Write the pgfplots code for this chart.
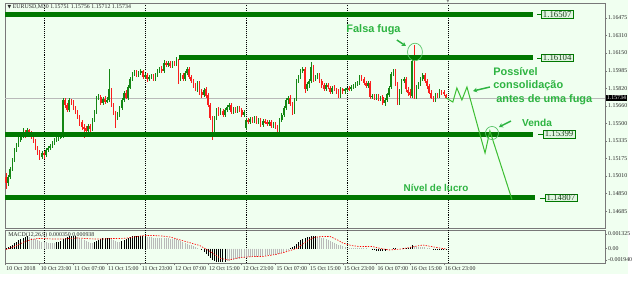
\documentclass[border=0pt]{standalone}
\usepackage{pgfplots}
\pgfplotsset{compat=1.18}
\usepackage{pgfplotstable}
\usepackage{fontspec}
\setmainfont{Liberation Serif}
\newfontfamily\annfont{Liberation Sans}
\newfontfamily\symfont{DejaVu Sans}
\usetikzlibrary{arrows.meta}
\definecolor{bgc}{RGB}{240,255,240}
\definecolor{bull}{RGB}{20,135,20}
\definecolor{bear}{RGB}{250,30,30}
\definecolor{lvl}{RGB}{0,120,0}
\definecolor{ann}{RGB}{45,180,65}
\definecolor{proj}{RGB}{60,190,50}
\definecolor{boxfill}{RGB}{225,245,225}
\definecolor{boxtext}{RGB}{30,70,30}
\definecolor{frame}{RGB}{120,120,120}
\newcommand\axfont{\fontsize{4.4}{5}\selectfont}

\pgfplotstableread{
b o h l c
-18 1.15004 1.15042 1.14891 1.14948
-17 1.14948 1.15023 1.14920 1.15004
-16 1.15004 1.15098 1.14985 1.15079
-15 1.15079 1.15173 1.15061 1.15155
-14 1.15155 1.15267 1.15136 1.15249
-13 1.15249 1.15314 1.15230 1.15296
-12 1.15296 1.15371 1.15277 1.15343
-11 1.15343 1.15408 1.15324 1.15380
-10 1.15380 1.15455 1.15361 1.15418
-9 1.15418 1.15437 1.15361 1.15390
-8 1.15390 1.15455 1.15371 1.15437
-7 1.15437 1.15446 1.15380 1.15408
-6 1.15408 1.15427 1.15352 1.15371
-5 1.15371 1.15390 1.15314 1.15343
-4 1.15343 1.15352 1.15249 1.15267
-3 1.15267 1.15286 1.15202 1.15230
-2 1.15230 1.15249 1.15155 1.15183
-1 1.15183 1.15239 1.15164 1.15220
0 1.15220 1.15239 1.15173 1.15202
1 1.15202 1.15267 1.15183 1.15249
2 1.15249 1.15286 1.15230 1.15267
3 1.15267 1.15305 1.15249 1.15286
4 1.15286 1.15333 1.15267 1.15314
5 1.15314 1.15361 1.15296 1.15343
6 1.15343 1.15371 1.15324 1.15352
7 1.15352 1.15399 1.15333 1.15371
8 1.15371 1.15408 1.15352 1.15380
9 1.15380 1.15737 1.15361 1.15719
10 1.15719 1.15737 1.15643 1.15672
11 1.15672 1.15690 1.15606 1.15625
12 1.15625 1.15737 1.15606 1.15719
13 1.15719 1.15728 1.15672 1.15700
14 1.15700 1.15719 1.15625 1.15643
15 1.15643 1.15662 1.15587 1.15606
16 1.15606 1.15625 1.15540 1.15568
17 1.15568 1.15578 1.15474 1.15512
18 1.15512 1.15531 1.15437 1.15465
19 1.15465 1.15493 1.15361 1.15455
20 1.15455 1.15474 1.15399 1.15427
21 1.15427 1.15493 1.15408 1.15474
22 1.15474 1.15493 1.15418 1.15446
23 1.15446 1.15549 1.15427 1.15531
24 1.15531 1.15625 1.15512 1.15606
25 1.15606 1.15756 1.15587 1.15737
26 1.15737 1.15766 1.15719 1.15747
27 1.15747 1.15756 1.15672 1.15690
28 1.15690 1.15747 1.15672 1.15728
29 1.15728 1.15747 1.15681 1.15700
30 1.15700 1.15747 1.15690 1.15719
31 1.15719 1.16001 1.15700 1.15813
32 1.15813 1.15831 1.15653 1.15672
33 1.15672 1.15690 1.15578 1.15596
34 1.15596 1.15615 1.15455 1.15559
35 1.15559 1.15606 1.15531 1.15578
36 1.15578 1.15662 1.15559 1.15643
37 1.15643 1.15737 1.15625 1.15719
38 1.15719 1.15803 1.15700 1.15784
39 1.15784 1.15803 1.15719 1.15737
40 1.15737 1.15850 1.15719 1.15831
41 1.15831 1.15925 1.15813 1.15907
42 1.15907 1.15972 1.15888 1.15954
43 1.15954 1.15991 1.15935 1.15972
44 1.15972 1.15991 1.15925 1.15944
45 1.15944 1.15982 1.15925 1.15963
46 1.15963 1.16001 1.15944 1.15982
47 1.15982 1.15991 1.15907 1.15925
48 1.15925 1.15963 1.15907 1.15944
49 1.15944 1.15963 1.15878 1.15907
50 1.15907 1.15944 1.15888 1.15925
51 1.15925 1.15954 1.15907 1.15935
52 1.15935 1.15954 1.15888 1.15907
53 1.15907 1.15963 1.15888 1.15944
54 1.15944 1.16001 1.15925 1.15982
55 1.15982 1.16019 1.15963 1.16001
56 1.16001 1.16029 1.15963 1.15982
57 1.15982 1.16085 1.15963 1.16057
58 1.16057 1.16076 1.16019 1.16038
59 1.16038 1.16076 1.16019 1.16057
60 1.16057 1.16076 1.16010 1.16029
61 1.16029 1.16076 1.16010 1.16057
62 1.16057 1.16076 1.16029 1.16048
63 1.16048 1.16113 1.16029 1.16076
64 1.16076 1.16094 1.15860 1.15907
65 1.15907 1.15963 1.15888 1.15944
66 1.15944 1.15963 1.15888 1.15907
67 1.15907 1.15982 1.15888 1.15963
68 1.15963 1.16019 1.15944 1.16001
69 1.16001 1.16019 1.15907 1.15925
70 1.15925 1.15944 1.15869 1.15888
71 1.15888 1.15907 1.15831 1.15850
72 1.15850 1.15869 1.15794 1.15813
73 1.15813 1.15888 1.15794 1.15869
74 1.15869 1.15888 1.15766 1.15794
75 1.15794 1.15813 1.15737 1.15766
76 1.15766 1.15831 1.15747 1.15813
77 1.15813 1.15831 1.15737 1.15756
78 1.15756 1.15775 1.15653 1.15672
79 1.15672 1.15690 1.15531 1.15549
80 1.15549 1.15568 1.15343 1.15437
81 1.15437 1.15568 1.15418 1.15549
82 1.15549 1.15643 1.15531 1.15625
83 1.15625 1.15653 1.15568 1.15596
84 1.15596 1.15643 1.15578 1.15615
85 1.15615 1.15634 1.15559 1.15578
86 1.15578 1.15643 1.15559 1.15625
87 1.15625 1.15672 1.15606 1.15653
88 1.15653 1.15690 1.15625 1.15672
89 1.15672 1.15690 1.15587 1.15606
90 1.15606 1.15653 1.15587 1.15634
91 1.15634 1.15653 1.15596 1.15615
92 1.15615 1.15662 1.15596 1.15643
93 1.15643 1.15662 1.15606 1.15625
94 1.15625 1.15643 1.15559 1.15578
95 1.15578 1.15625 1.15559 1.15606
96 1.15455 1.15549 1.15437 1.15531
97 1.15531 1.15549 1.15493 1.15512
98 1.15512 1.15559 1.15493 1.15540
99 1.15540 1.15559 1.15502 1.15521
100 1.15521 1.15568 1.15502 1.15549
101 1.15549 1.15568 1.15493 1.15512
102 1.15512 1.15549 1.15493 1.15531
103 1.15531 1.15549 1.15465 1.15484
104 1.15484 1.15540 1.15465 1.15521
105 1.15521 1.15540 1.15493 1.15512
106 1.15512 1.15531 1.15474 1.15493
107 1.15493 1.15531 1.15474 1.15512
108 1.15512 1.15531 1.15455 1.15474
109 1.15474 1.15512 1.15455 1.15493
110 1.15493 1.15512 1.15446 1.15465
111 1.15465 1.15484 1.15418 1.15437
112 1.15437 1.15549 1.15418 1.15531
113 1.15531 1.15596 1.15512 1.15578
114 1.15578 1.15662 1.15559 1.15643
115 1.15643 1.15737 1.15625 1.15719
116 1.15719 1.15756 1.15681 1.15737
117 1.15737 1.15756 1.15662 1.15681
118 1.15681 1.15700 1.15578 1.15606
119 1.15606 1.15737 1.15587 1.15719
120 1.15719 1.15907 1.15700 1.15888
121 1.15888 1.15944 1.15869 1.15925
122 1.15925 1.16001 1.15907 1.15982
123 1.15982 1.16019 1.15963 1.16001
124 1.16001 1.16019 1.15784 1.15813
125 1.15813 1.15878 1.15794 1.15860
126 1.15860 1.15907 1.15831 1.15888
127 1.15888 1.16066 1.15869 1.16019
128 1.16019 1.16038 1.15878 1.15907
129 1.15907 1.15944 1.15888 1.15925
130 1.15925 1.15963 1.15907 1.15944
131 1.15944 1.15963 1.15869 1.15888
132 1.15888 1.15907 1.15831 1.15850
133 1.15850 1.15869 1.15794 1.15813
134 1.15813 1.15869 1.15794 1.15850
135 1.15850 1.15869 1.15813 1.15831
136 1.15831 1.15850 1.15775 1.15794
137 1.15794 1.15850 1.15775 1.15831
138 1.15831 1.15850 1.15794 1.15813
139 1.15813 1.15831 1.15775 1.15794
140 1.15794 1.15813 1.15737 1.15756
141 1.15756 1.15831 1.15737 1.15813
142 1.15813 1.15831 1.15775 1.15794
143 1.15794 1.15831 1.15775 1.15813
144 1.15813 1.15831 1.15794 1.15822
145 1.15822 1.15841 1.15794 1.15813
146 1.15813 1.15850 1.15794 1.15831
147 1.15831 1.15860 1.15813 1.15841
148 1.15841 1.15878 1.15822 1.15860
149 1.15860 1.15888 1.15841 1.15869
150 1.15869 1.15944 1.15850 1.15925
151 1.15925 1.15944 1.15888 1.15907
152 1.15907 1.15925 1.15850 1.15869
153 1.15869 1.15888 1.15831 1.15850
154 1.15850 1.15888 1.15831 1.15869
155 1.15869 1.15888 1.15728 1.15747
156 1.15747 1.15775 1.15728 1.15756
157 1.15756 1.15775 1.15719 1.15737
158 1.15737 1.15775 1.15719 1.15756
159 1.15756 1.15775 1.15709 1.15728
160 1.15728 1.15756 1.15709 1.15737
161 1.15737 1.15756 1.15672 1.15690
162 1.15690 1.15737 1.15662 1.15719
163 1.15719 1.15784 1.15700 1.15766
164 1.15766 1.15850 1.15747 1.15831
165 1.15831 1.15972 1.15813 1.15954
166 1.15954 1.16001 1.15935 1.15982
167 1.15982 1.16001 1.15841 1.15860
168 1.15860 1.15878 1.15672 1.15690
169 1.15690 1.15813 1.15672 1.15794
170 1.15794 1.15907 1.15775 1.15888
171 1.15888 1.15925 1.15869 1.15907
172 1.15907 1.15925 1.15794 1.15813
173 1.15813 1.15831 1.15756 1.15784
174 1.15784 1.15813 1.15737 1.15756
175 1.15756 1.16094 1.15737 1.16076
176 1.16076 1.16226 1.15728 1.15747
177 1.15747 1.15850 1.15728 1.15831
178 1.15831 1.15878 1.15813 1.15860
179 1.15860 1.15925 1.15841 1.15907
180 1.15907 1.15963 1.15888 1.15944
181 1.15944 1.15963 1.15869 1.15888
182 1.15888 1.15907 1.15822 1.15841
183 1.15841 1.15860 1.15766 1.15784
184 1.15784 1.15803 1.15719 1.15737
185 1.15737 1.15756 1.15700 1.15719
186 1.15719 1.15784 1.15700 1.15766
187 1.15766 1.15784 1.15737 1.15756
188 1.15756 1.15813 1.15737 1.15794
189 1.15794 1.15813 1.15766 1.15784
190 1.15784 1.15803 1.15747 1.15766
191 1.15766 1.15775 1.15728 1.15734
}\candles

\pgfplotstableread{
b v k
-18 0.00009 1
-17 0.00018 1
-16 0.00027 1
-15 0.00036 1
-14 0.00054 1
-13 0.00063 1
-12 0.00081 1
-11 0.00090 1
-10 0.00099 1
-9 0.00108 1
-8 0.00117 1
-7 0.00108 0
-6 0.00099 0
-5 0.00090 0
-4 0.00090 0
-3 0.00081 0
-2 0.00072 0
-1 0.00063 0
0 0.00063 0
1 0.00063 0
2 0.00054 0
3 0.00054 0
4 0.00054 0
5 0.00054 0
6 0.00063 1
7 0.00063 1
8 0.00072 1
9 0.00090 1
10 0.00099 1
11 0.00108 1
12 0.00117 1
13 0.00117 1
14 0.00117 1
15 0.00117 1
16 0.00108 0
17 0.00099 0
18 0.00090 0
19 0.00081 0
20 0.00072 0
21 0.00063 0
22 0.00054 0
23 0.00054 0
24 0.00063 1
25 0.00072 1
26 0.00081 1
27 0.00090 1
28 0.00099 1
29 0.00099 1
30 0.00099 1
31 0.00099 1
32 0.00090 0
33 0.00081 0
34 0.00072 0
35 0.00063 0
36 0.00063 0
37 0.00072 1
38 0.00081 1
39 0.00090 1
40 0.00099 1
41 0.00108 1
42 0.00117 1
43 0.00117 1
44 0.00117 1
45 0.00117 1
46 0.00117 1
47 0.00117 1
48 0.00117 1
49 0.00108 0
50 0.00108 0
51 0.00108 0
52 0.00099 0
53 0.00099 0
54 0.00099 0
55 0.00099 0
56 0.00099 0
57 0.00099 0
58 0.00099 0
59 0.00099 0
60 0.00090 0
61 0.00090 0
62 0.00090 0
63 0.00090 0
64 0.00081 0
65 0.00072 0
66 0.00063 0
67 0.00054 0
68 0.00045 0
69 0.00036 0
70 0.00036 0
71 0.00027 0
72 0.00018 0
73 0.00009 0
74 0 0
75 -0.00009 1
76 -0.00027 1
77 -0.00045 1
78 -0.00063 1
79 -0.00081 1
80 -0.00099 1
81 -0.00108 1
82 -0.00117 1
83 -0.00117 1
84 -0.00117 1
85 -0.00117 1
86 -0.00117 1
87 -0.00108 0
88 -0.00108 0
89 -0.00099 0
90 -0.00099 0
91 -0.00090 0
92 -0.00090 0
93 -0.00090 0
94 -0.00081 0
95 -0.00081 0
96 -0.00081 0
97 -0.00072 0
98 -0.00072 0
99 -0.00072 0
100 -0.00072 0
101 -0.00072 0
102 -0.00063 0
103 -0.00063 0
104 -0.00063 0
105 -0.00063 0
106 -0.00054 0
107 -0.00054 0
108 -0.00054 0
109 -0.00054 0
110 -0.00054 0
111 -0.00045 0
112 -0.00045 0
113 -0.00036 0
114 -0.00027 0
115 -0.00018 0
116 -0.00009 0
117 0.00009 1
118 0.00018 1
119 0.00027 1
120 0.00045 1
121 0.00063 1
122 0.00081 1
123 0.00090 1
124 0.00099 1
125 0.00108 1
126 0.00108 1
127 0.00117 1
128 0.00117 1
129 0.00117 1
130 0.00108 0
131 0.00108 0
132 0.00099 0
133 0.00099 0
134 0.00090 0
135 0.00081 0
136 0.00072 0
137 0.00063 0
138 0.00054 0
139 0.00045 0
140 0.00036 0
141 0.00036 0
142 0.00027 0
143 0.00018 0
144 0.00009 0
145 0.00009 0
146 0.00009 0
147 0.00009 0
148 0.00009 0
149 0.00009 0
150 0.00009 0
151 0.00009 0
152 0.00009 0
153 0.00009 0
154 0 0
155 0 0
156 -0.00009 1
157 -0.00009 1
158 -0.00018 1
159 -0.00018 1
160 -0.00018 1
161 -0.00018 1
162 -0.00018 1
163 -0.00009 0
164 -0.00009 0
165 0 0
166 0.00009 1
167 0.00009 1
168 0 0
169 0 0
170 0 0
171 0.00009 1
172 0.00009 1
173 0.00009 1
174 0.00018 1
175 0.00036 1
176 0.00027 0
177 0.00018 0
178 0.00018 0
179 0.00018 0
180 0.00018 0
181 0.00018 0
182 0.00009 0
183 0.00009 0
184 0 0
185 -0.00009 1
186 -0.00009 1
187 -0.00009 1
188 -0.00009 1
189 -0.00009 1
190 -0.00009 1
191 -0.00009 1
}\macd

\pgfplotstableread{
b s
-18 -0.00009
-15 0.00009
-12 0.00036
-9 0.00063
-6 0.00081
-3 0.00090
0 0.00090
4 0.000855
8 0.000855
12 0.00090
16 0.000945
20 0.00090
24 0.000855
28 0.000855
32 0.00090
36 0.00090
40 0.000945
44 0.00108
48 0.00117
52 0.00117
56 0.001125
60 0.001035
64 0.00081
69 0.00054
74 0.00027
79 -0.00027
84 -0.00090
88 -0.001035
93 -0.00081
100 -0.00072
104 -0.00072
110 -0.00054
114 -0.00036
120 0
124 0.00054
128 0.00099
132 0.00108
136 0.00108
140 0.00072
142 0.000495
146 0.00027
150 0.00018
156 0.00018
160 0
164 -0.000135
170 -0.000045
176 0.00018
180 0.000315
184 0.00018
188 0.000045
191 -0.000045
}\signal

\tikzset{
  ann/.style={font=\annfont\bfseries\fontsize{8.2}{9.5}\selectfont, text=ann, inner sep=0pt},
  lvlbox/.style={draw=lvl, line width=0.4pt, fill=boxfill, text=boxtext, font=\fontsize{6.6}{7}\selectfont, inner xsep=1.2pt, inner ysep=0.4pt, minimum height=5.6pt, anchor=west},
  arr/.style={draw=ann, line width=1.1pt, -{Stealth[length=3pt,width=3.5pt]}},
}

\begin{document}
\begin{tikzpicture}
\path[use as bounding box] (0,0) rectangle (480.75pt,-213.75pt);
\fill[white] (0,0) rectangle (480.75pt,-213.75pt);
\fill[bgc] (0,0) rectangle (471pt,-205.5pt);

\begin{axis}[
  at={(3.75pt,-2.475pt)}, anchor=north west, scale only axis,
  width=450pt, height=168.75pt,
  xmin=-18.5, xmax=266.6, ymin=1.145257, ymax=1.166101,
  clip=false,
  axis line style={frame, line width=0.6pt},
  xtick={0,48,96,144,192}, xticklabels={}, xmajorgrids,
  major x grid style={black, line width=0.45pt, dash pattern=on 0.8pt off 0.8pt},
  xtick style={draw=none},
  scaled y ticks=false,
  ytick={1.16475,1.16310,1.16150,1.15985,1.15820,1.15660,1.15500,1.15335,1.15175,1.15010,1.14850,1.14685,1.14520},
  yticklabels={1.16475,1.16310,1.16150,1.15985,1.15820,1.15660,1.15500,1.15335,1.15175,1.15010,1.14850,1.14685,1.14520},
  ytick pos=right, yticklabel pos=right,
  tick align=outside, major tick length=1.6pt,
  ytick style={frame, line width=0.4pt},
  yticklabel style={font=\axfont, inner sep=0.6pt, text=black!85},
]
% current price line
\addplot[gray!55, line width=0.5pt, forget plot] coordinates {(-18.5,1.15734) (266.6,1.15734)};
% wicks
\addplot[draw=none, mark=none, forget plot, restrict expr to domain={\thisrow{c}-\thisrow{o}}{0:1},
  error bars/.cd, y dir=both, y explicit, error mark=none, error bar style={draw=bull, solid, line width=0.45pt}]
  table[x=b, y expr={(\thisrow{h}+\thisrow{l})/2}, y error expr={(\thisrow{h}-\thisrow{l})/2}] {\candles};
\addplot[draw=none, mark=none, forget plot, restrict expr to domain={\thisrow{o}-\thisrow{c}}{0.000001:1},
  error bars/.cd, y dir=both, y explicit, error mark=none, error bar style={draw=bear, solid, line width=0.45pt}]
  table[x=b, y expr={(\thisrow{h}+\thisrow{l})/2}, y error expr={(\thisrow{h}-\thisrow{l})/2}] {\candles};
% bodies
\addplot[draw=none, mark=none, forget plot, restrict expr to domain={\thisrow{c}-\thisrow{o}}{0:1},
  error bars/.cd, y dir=both, y explicit, error mark=none, error bar style={draw=bull, solid, line width=1.15pt}]
  table[x=b, y expr={(\thisrow{o}+\thisrow{c})/2}, y error expr={(\thisrow{c}-\thisrow{o})/2}] {\candles};
\addplot[draw=none, mark=none, forget plot, restrict expr to domain={\thisrow{o}-\thisrow{c}}{0.000001:1},
  error bars/.cd, y dir=both, y explicit, error mark=none, error bar style={draw=bear, solid, line width=1.15pt}]
  table[x=b, y expr={(\thisrow{o}+\thisrow{c})/2}, y error expr={(\thisrow{o}-\thisrow{c})/2}] {\candles};
% levels
\addplot[lvl, line width=3.75pt, forget plot] coordinates {(-18.5,1.16507) (232.4,1.16507)};
\addplot[lvl, line width=3.75pt, forget plot] coordinates {(64.1,1.16104) (232.4,1.16104)};
\addplot[lvl, line width=3.75pt, forget plot] coordinates {(-18.5,1.15399) (232.4,1.15399)};
\addplot[lvl, line width=3.75pt, forget plot] coordinates {(-18.5,1.14807) (233.3,1.14807)};
% projected path
\addplot[proj, line width=0.75pt, forget plot] coordinates {
 (191,1.15734) (194.3,1.156958) (196.2,1.158255) (198.6,1.157143) (201.0,1.158347)
 (209.6,1.152233) (211.9,1.154271) (222.4,1.147925)};

% level labels
\draw[lvl, line width=0.5pt] (axis cs:234.3,1.16507) -- (axis cs:236.2,1.16507);
\node[lvlbox] at (axis cs:236.2,1.16507) {1.16507};
\draw[lvl, line width=0.5pt] (axis cs:234.3,1.16104) -- (axis cs:236.2,1.16104);
\node[lvlbox] at (axis cs:236.2,1.16104) {1.16104};
\draw[lvl, line width=0.5pt] (axis cs:234.8,1.15399) -- (axis cs:237.1,1.15399);
\node[lvlbox] at (axis cs:237.1,1.15399) {1.15399};
\draw[lvl, line width=0.5pt] (axis cs:235.7,1.14807) -- (axis cs:238.0,1.14807);
\node[lvlbox] at (axis cs:238.0,1.14807) {1.14807};

% current price tag
\node[fill=black, text=white, font=\axfont, inner xsep=0.8pt, inner ysep=0.6pt, anchor=west] at (axis cs:266.9,1.15734) {1.15734};

% annotations
\node[ann] at (axis cs:156.6,1.163628) {Falsa fuga};
\draw[arr] (axis cs:167.7,1.162701) -- (axis cs:172.0,1.162146);
\draw[ann!80, line width=0.5pt] (axis cs:176.3,1.161590) ellipse [x radius=5.6pt, y radius=6.6pt];
\node[ann, anchor=west] at (axis cs:213.4,1.159737) {Possível};
\node[ann, anchor=west] at (axis cs:213.4,1.158440) {consolidação};
\node[ann, anchor=west] at (axis cs:214.8,1.157143) {antes de uma fuga};
\draw[arr] (axis cs:211.9,1.158347) -- (axis cs:203.9,1.157977);
\node[ann, anchor=west, font=\annfont\bfseries\fontsize{7.6}{9}\selectfont] at (axis cs:227.1,1.155012) {Venda};
\draw[arr] (axis cs:221.9,1.155198) -- (axis cs:216.2,1.154642);
\draw[ann!80, line width=0.5pt] (axis cs:212.9,1.154086) circle [radius=4.9pt];
\node[ann, font=\annfont\bfseries\fontsize{7.4}{9}\selectfont] at (axis cs:186.3,1.148991) {Nível de lucro};

% title
\node[anchor=west, font=\axfont, inner sep=0pt, text=black!85] at (axis description cs:0.004,0.982)
  {{\symfont\fontsize{3.6}{4}\selectfont ▼}\ EURUSD,M30 1.15751 1.15756 1.15712 1.15734};
\node[text=gray, font=\symfont\fontsize{3.6}{4}\selectfont, inner sep=0pt, anchor=south] at (axis cs:192,1.166101) {▼};
\end{axis}

\begin{axis}[
  at={(3.75pt,-172.5pt)}, anchor=north west, scale only axis,
  width=450pt, height=24.75pt,
  xmin=-18.5, xmax=266.6, ymin=-0.001305, ymax=0.001665,
  clip=false,
  axis line style={frame, line width=0.6pt},
  xtick={-18.3,-2,14,30,46,62,78,94,110,126,142,158,174,190},
  xticklabels={10 Oct 2018,10 Oct 23:00,11 Oct 07:00,11 Oct 15:00,11 Oct 23:00,12 Oct 07:00,12 Oct 15:00,12 Oct 23:00,15 Oct 07:00,15 Oct 15:00,15 Oct 23:00,16 Oct 07:00,16 Oct 15:00,16 Oct 23:00},
  xticklabel style={anchor=north west, font=\axfont, inner sep=0.6pt, text=black!85},
  xtick pos=bottom,
  extra x ticks={0,48,96,144,192}, extra x tick labels={},
  extra x tick style={grid=major, major tick length=0pt},
  major grid style={black, line width=0.45pt, dash pattern=on 0.8pt off 0.8pt},
  scaled y ticks=false,
  ytick={0.0013,0,-0.00104},
  yticklabels={0.001325,0.00,-0.001940},
  ytick pos=right, yticklabel pos=right,
  tick align=outside, major tick length=1.6pt,
  tick style={frame, line width=0.4pt},
  yticklabel style={font=\axfont, inner sep=0.6pt, text=black!85},
]
\addplot[ycomb, mark=none, black, line width=0.55pt, restrict expr to domain={\thisrow{k}}{0.5:1.5}] table[x=b, y=v] {\macd};
\addplot[ycomb, mark=none, gray!55, line width=0.55pt, restrict expr to domain={\thisrow{k}}{-0.5:0.5}] table[x=b, y=v] {\macd};
\addplot[red, line width=0.5pt, dash pattern=on 1pt off 1pt, mark=none] table[x=b, y=s] {\signal};
\node[anchor=west, font=\axfont, inner sep=0pt, text=black!85] at (axis description cs:0.005,0.86) {MACD(12,26,9) 0.000350 0.000938};
\end{axis}
\end{tikzpicture}
\end{document}
